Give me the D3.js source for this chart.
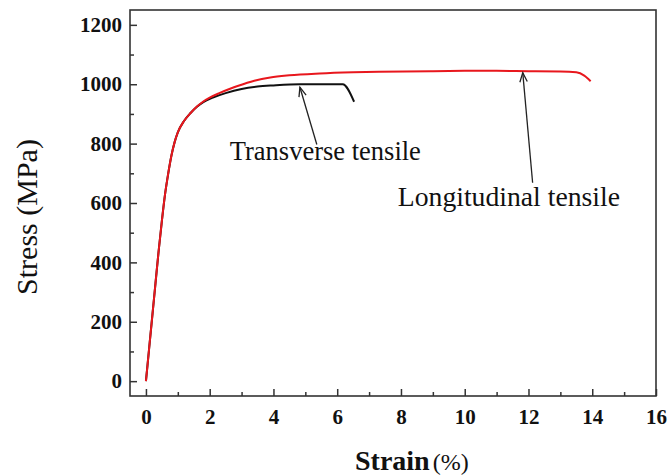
<!DOCTYPE html>
<html>
<head>
<meta charset="utf-8">
<script src="https://cdn.jsdelivr.net/npm/d3@7"></script>
<style>
  body { margin: 0; background: #fff; }
  svg text { font-family: "Liberation Serif", "Times New Roman", serif; fill: #111; }
</style>
</head>
<body>
<div id="chart"></div>
<script>
// longitudinal tensile curve (red): strain %, stress MPa
const longStrain = [0, 0.1, 0.2, 0.3, 0.4, 0.5, 0.6, 0.7, 0.8, 0.9, 1.0, 1.2, 1.4, 1.6, 1.8, 2.0, 2.3, 2.6, 2.9, 3.4, 3.9, 4.5, 5.45, 6.5, 7.3, 9, 10, 11, 12, 13, 13.5, 13.75, 13.95]
const longStress = [0, 110, 220, 330, 440, 540, 630, 700, 760, 805, 838, 877, 903, 925, 942, 955, 970, 983, 995, 1012, 1023, 1030, 1036, 1040, 1042, 1044, 1045, 1045, 1044, 1043, 1040, 1029, 1010]

// transverse tensile curve (black)
const transStrain = [0, 0.1, 0.2, 0.3, 0.4, 0.5, 0.6, 0.7, 0.8, 0.9, 1.0, 1.2, 1.4, 1.6, 1.8, 2.1, 2.5, 3.0, 3.5, 4.0, 4.83, 5.5, 6.17, 6.53]
const transStress = [0, 110, 220, 330, 440, 540, 630, 700, 760, 805, 838, 877, 903, 924, 940, 955, 970, 984, 992, 996, 1000, 1000, 1000, 941]

const xMajorTicks = [0, 2, 4, 6, 8, 10, 12, 14, 16]
const xMinorTicks = [1, 3, 5, 7, 9, 11, 13, 15]
const yMajorTicks = [0, 200, 400, 600, 800, 1000, 1200]
const yMinorTicks = [100, 300, 500, 700, 900, 1100]

// annotations: label, text position, arrow tail, arrow tip (data coords)
const annLabels = ['Transverse tensile', 'Longitudinal tensile']
const annText = [[2.63, 744], [7.9, 589]]
const annTail = [[5.36, 797], [12.13, 668]]
const annTip = [[4.83, 990], [11.82, 1039]]

const width = 671, height = 475
const margin = {left: 130, top: 10, right: 15, bottom: 79}
const w = width - margin.left - margin.right
const h = height - margin.top - margin.bottom

const svg = d3.select('#chart').append('svg')
    .attr('width', width)
    .attr('height', height)

const g = svg.append('g').attr('transform', `translate(${margin.left},${margin.top})`)

const xScale = d3.scaleLinear().domain([-0.5, 16]).range([0, w])
const yScale = d3.scaleLinear().domain([-50, 1250]).range([h, 0])

// ticks (inward)
g.append('g').attr('transform', `translate(0,${h})`)
    .call(d3.axisBottom(xScale).tickValues(xMajorTicks).tickSize(-7).tickPadding(13).tickFormat(d3.format('d')))
g.append('g').attr('transform', `translate(0,${h})`)
    .call(d3.axisBottom(xScale).tickValues(xMinorTicks).tickSize(-4).tickFormat(''))
g.append('g')
    .call(d3.axisLeft(yScale).tickValues(yMajorTicks).tickSize(-7).tickPadding(8).tickFormat(d3.format('d')))
g.append('g')
    .call(d3.axisLeft(yScale).tickValues(yMinorTicks).tickSize(-4).tickFormat(''))

g.selectAll('.domain').remove()
g.selectAll('.tick line').attr('stroke', '#333').attr('stroke-width', 1.5)
g.selectAll('.tick text')
    .style('font-family', '"Liberation Serif", serif')
    .style('font-size', '21px')
    .style('font-weight', 'bold')
    .attr('fill', '#111')

// frame
g.append('rect')
    .attr('width', w)
    .attr('height', h)
    .attr('fill', 'none')
    .attr('stroke', '#333')
    .attr('stroke-width', 1.6)

const line = d3.line()
    .x(d => xScale(d[0]))
    .y(d => yScale(d[1]))
    .curve(d3.curveMonotoneX)

const transData = transStrain.map((s, i) => [s, transStress[i]])
const longData = longStrain.map((s, i) => [s, longStress[i]])

g.append('path').datum(transData)
    .attr('d', line)
    .attr('fill', 'none')
    .attr('stroke', '#111')
    .attr('stroke-width', 2)

g.append('path').datum(longData)
    .attr('d', line)
    .attr('fill', 'none')
    .attr('stroke', '#e8171d')
    .attr('stroke-width', 2)

// arrows
annLabels.forEach((label, i) => {
    const x1 = xScale(annTail[i][0]), y1 = yScale(annTail[i][1])
    const x2 = xScale(annTip[i][0]), y2 = yScale(annTip[i][1])
    g.append('line')
        .attr('x1', x1).attr('y1', y1).attr('x2', x2).attr('y2', y2)
        .attr('stroke', '#222').attr('stroke-width', 1.3)
    const ang = Math.atan2(y1 - y2, x1 - x2)
    const len = 10, spread = 0.38
    const p1 = [x2 + len * Math.cos(ang - spread), y2 + len * Math.sin(ang - spread)]
    const p2 = [x2 + len * Math.cos(ang + spread), y2 + len * Math.sin(ang + spread)]
    g.append('path')
        .attr('d', `M${p1[0]},${p1[1]}L${x2},${y2}L${p2[0]},${p2[1]}`)
        .attr('fill', 'none').attr('stroke', '#222').attr('stroke-width', 1.3)

    g.append('text')
        .attr('x', xScale(annText[i][0]))
        .attr('y', yScale(annText[i][1]))
        .style('font-size', i == 0 ? '26.5px' : '27.7px')
        .text(label)
})

// axis titles
svg.append('text')
    .attr('transform', 'translate(37,217) rotate(-90)')
    .attr('text-anchor', 'middle')
    .style('font-size', '30px')
    .text('Stress (MPa)')

const xt = svg.append('text')
    .attr('x', 355)
    .attr('y', 470)
xt.append('tspan').style('font-size', '28px').style('font-weight', 'bold').text('Strain')
xt.append('tspan').attr('dx', 3).style('font-size', '24px').text('(%)')
</script>
</body>
</html>
